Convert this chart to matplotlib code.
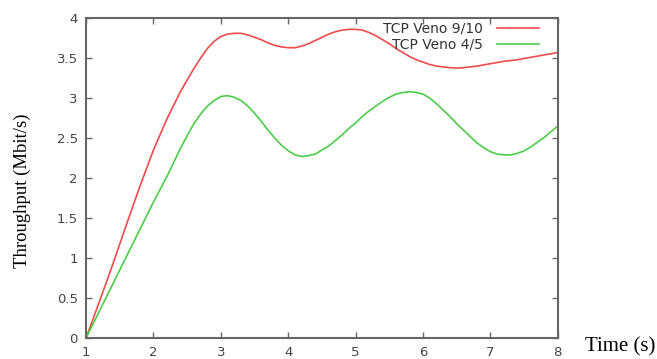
import matplotlib
matplotlib.use('Agg')
import matplotlib.pyplot as plt

# time axis (s)
t_red = [1.0, 1.2, 1.4, 1.6, 1.8, 2.0, 2.2, 2.4, 2.6, 2.7, 2.8, 2.9, 3.0, 3.1, 3.2, 3.3,
         3.4, 3.5, 3.6, 3.7, 3.8, 3.9, 4.0, 4.1, 4.2, 4.3, 4.4, 4.5, 4.6, 4.7, 4.8,
         4.9, 5.0, 5.1, 5.2, 5.3, 5.4, 5.5, 5.6, 5.7, 5.8, 5.9, 6.0, 6.1, 6.2, 6.3,
         6.4, 6.5, 6.6, 6.8, 7.0, 7.2, 7.4, 7.6, 7.8, 8.0]
veno_9_10 = [0.0, 0.46, 0.93, 1.42, 1.9, 2.35, 2.74, 3.08, 3.37, 3.50, 3.62, 3.71, 3.77,
             3.80, 3.81, 3.81, 3.79, 3.76, 3.73, 3.69, 3.66, 3.64, 3.63, 3.63, 3.65,
             3.68, 3.72, 3.76, 3.80, 3.83, 3.85, 3.86, 3.86, 3.85, 3.82, 3.78, 3.73,
             3.68, 3.62, 3.57, 3.52, 3.48, 3.45, 3.42, 3.40, 3.39, 3.38, 3.375, 3.38,
             3.40, 3.43, 3.46, 3.48, 3.51, 3.54, 3.57]

t_green = [1.0, 1.2, 1.4, 1.6, 1.8, 2.0, 2.2, 2.4, 2.5, 2.6, 2.7, 2.8, 2.9, 3.0, 3.1,
           3.2, 3.3, 3.4, 3.5, 3.6, 3.7, 3.8, 3.9, 4.0, 4.1, 4.2, 4.3, 4.4, 4.5, 4.6,
           4.7, 4.8, 4.9, 5.0, 5.1, 5.2, 5.3, 5.4, 5.5, 5.6, 5.7, 5.8, 5.9, 6.0, 6.1,
           6.2, 6.3, 6.4, 6.5, 6.6, 6.7, 6.8, 6.9, 7.0, 7.1, 7.2, 7.3, 7.4, 7.5, 7.6,
           7.7, 7.8, 7.9, 8.0]
veno_4_5 = [0.0, 0.34, 0.68, 1.02, 1.36, 1.70, 2.02, 2.37, 2.53, 2.68, 2.80, 2.90, 2.97,
            3.02, 3.03, 3.01, 2.97, 2.90, 2.81, 2.71, 2.60, 2.50, 2.41, 2.34, 2.29,
            2.27, 2.28, 2.30, 2.35, 2.40, 2.47, 2.54, 2.62, 2.69, 2.77, 2.84, 2.90,
            2.96, 3.01, 3.05, 3.07, 3.08, 3.07, 3.05, 3.00, 2.93, 2.85, 2.77, 2.68,
            2.60, 2.52, 2.44, 2.38, 2.33, 2.30, 2.29, 2.29, 2.31, 2.34, 2.39, 2.45,
            2.51, 2.58, 2.65]

xticks = [1, 2, 3, 4, 5, 6, 7, 8]
yticks = [0, 0.5, 1, 1.5, 2, 2.5, 3, 3.5, 4]
ytick_labels = ['0', '0.5', '1', '1.5', '2', '2.5', '3', '3.5', '4']

fig = plt.figure(figsize=(6.57, 3.59), dpi=100)
ax = fig.add_axes([0.131, 0.0585, 0.718, 0.891])

ax.plot(t_red, veno_9_10, color='#ee4b4b', lw=1.2, label='TCP Veno 9/10')
ax.plot(t_green, veno_4_5, color='#4ccc4c', lw=1.2, label='TCP Veno 4/5')

ax.set_xlim(1, 8)
ax.set_ylim(0, 4)
ax.set_xticks(xticks)
ax.set_yticks(yticks)
ax.set_yticklabels(ytick_labels)

grey = '#666666'
for s in ax.spines.values():
    s.set_color(grey)
    s.set_linewidth(1.5)
ax.tick_params(direction='in', length=4, width=1, color=grey,
               top=True, right=True, labelsize=9.5, labelcolor='#444444', pad=6)

fig.text(0.034, 0.47, 'Throughput (Mbit/s)', family='Liberation Serif', fontsize=13.5,
         rotation=90, ha='center', va='center')
fig.text(0.89, 0.02, 'Time (s)', family='Liberation Serif', fontsize=15)

leg = ax.legend(loc='upper right', bbox_to_anchor=(0.977, 1.014), frameon=False,
                markerfirst=False, fontsize=10, handlelength=3.0, labelspacing=0.1,
                borderaxespad=0.2, handletextpad=1.0)
for txt in leg.get_texts():
    txt.set_ha('right')
    txt.set_color('#333333')

fig.savefig('out.png', dpi=100)
